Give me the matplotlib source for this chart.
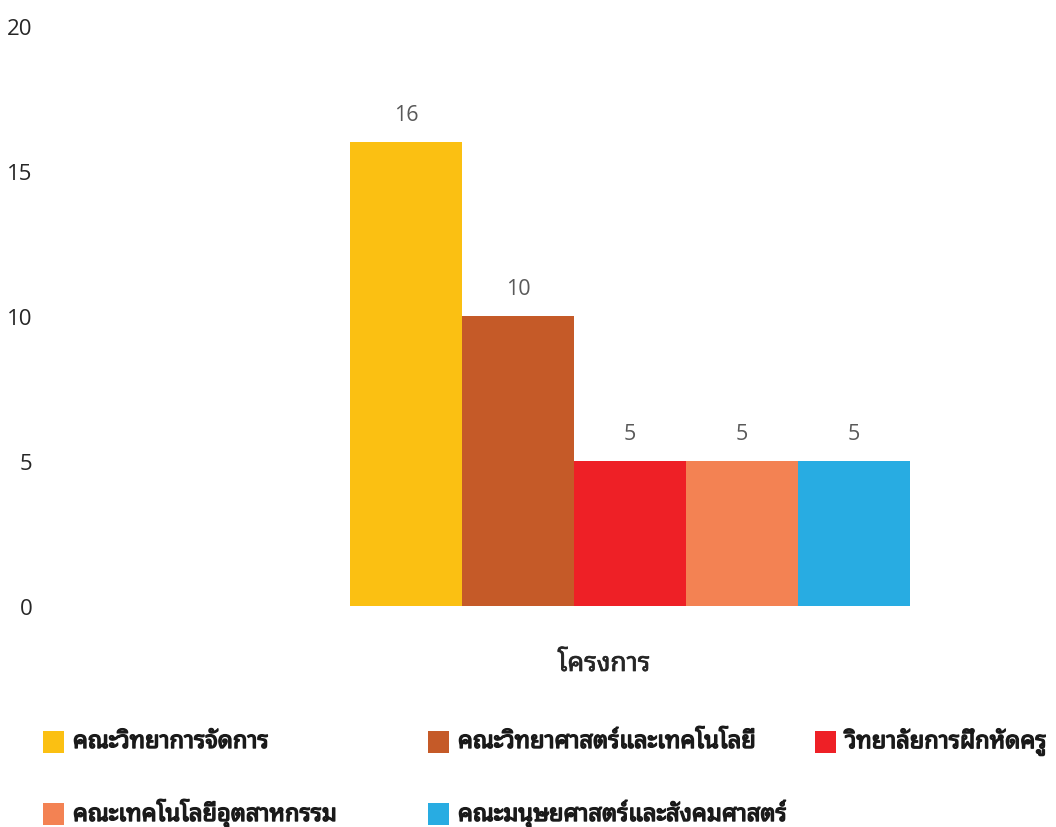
import numpy as np
import matplotlib
matplotlib.use("Agg")
import matplotlib.pyplot as plt
import matplotlib.patheffects as pe
from matplotlib.patches import Rectangle

plt.rcParams["font.family"] = ["Open Sans", "Noto Sans Thai Looped", "DejaVu Sans"]

series = ["คณะวิทยาการจัดการ", "คณะวิทยาศาสตร์และเทคโนโลยี", "วิทยาลัยการฝึกหัดครู",
          "คณะเทคโนโลยีอุตสาหกรรม", "คณะมนุษยศาสตร์และสังคมศาสตร์"]
values = [16, 10, 5, 5, 5]
colors = ["#FBC012", "#C55A28", "#EE2026", "#F38253", "#28ACE2"]
category = "โครงการ"
yticks = [0, 5, 10, 15, 20]

THAI = ["Noto Sans Thai Looped", "DejaVu Sans"]
W, H = 1056, 828
fig = plt.figure(figsize=(W / 100, H / 100), dpi=100)
ax = fig.add_axes([45 / W, 1 - 607 / H, (1050 - 45) / W, (607 - 27) / H])

x = np.arange(len(values))
bars = ax.bar(x, values, width=1.0, color=colors, linewidth=0)
for b, v in zip(bars, values):
    ax.annotate(f"{v}", (b.get_x() + b.get_width() / 2, v), xytext=(0, 12),
                textcoords="offset points", ha="center", va="bottom",
                fontsize=15.5, color="#595959")

ax.set_ylim(0, 20)
ax.set_xlim(-0.5 - (350 - 45) / 112, 4.5 + (1050 - 910) / 112)
ax.set_yticks(yticks)
ax.set_xticks([])
ax.tick_params(axis="y", length=0, pad=9, labelsize=16, labelcolor="#262626")
for s in ax.spines.values():
    s.set_visible(False)

fig.text(604 / W, 1 - 665 / H, category, ha="center", va="center",
         fontsize=19, color="#262626", family=THAI,
         path_effects=[pe.withStroke(linewidth=0.5, foreground="#262626")])

# legend, laid out by hand (two rows, uneven columns as in the original)
# the Thai font has no bold face here, so a thin stroke thickens the glyphs
heavy = [pe.withStroke(linewidth=1.0, foreground="#1a1a1a")]
pos = [(43, 743), (428, 743), (815, 743), (43, 815), (428, 815)]
for (px, py), lab, c in zip(pos, series, colors):
    fig.patches.append(Rectangle((px / W, 1 - (py + 11) / H), 21 / W, 22 / H,
                                 transform=fig.transFigure, color=c, lw=0))
    fig.text((px + 30) / W, 1 - py / H, lab, ha="left", va="center", fontsize=17,
             color="#1a1a1a", family=THAI, path_effects=heavy)

fig.savefig("out.png", dpi=100)
